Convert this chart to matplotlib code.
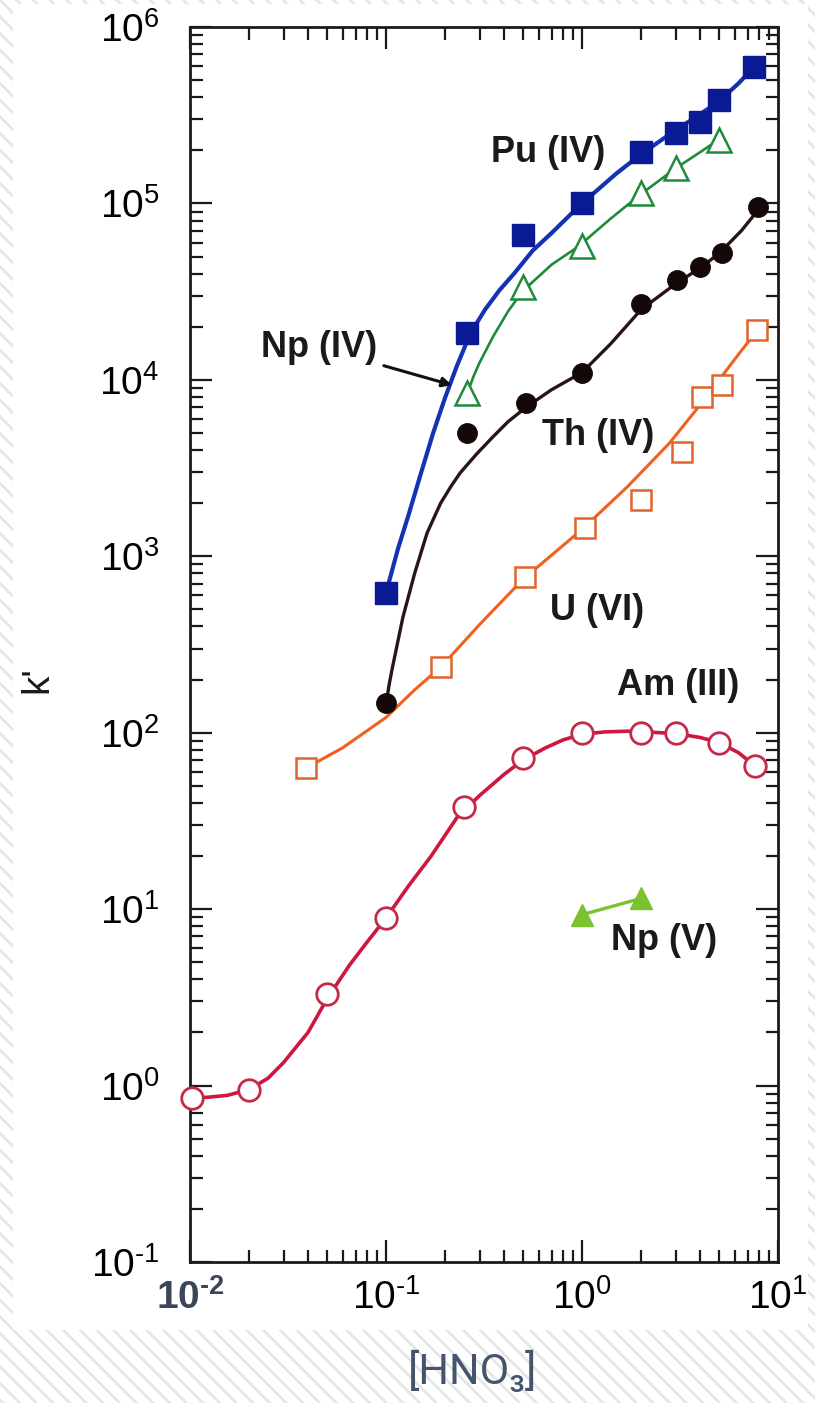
import matplotlib
matplotlib.use("Agg")
import matplotlib.pyplot as plt
from matplotlib.patches import Rectangle

plt.rcParams['font.family'] = ['Liberation Sans', 'DejaVu Sans']
plt.rcParams['mathtext.fontset'] = 'custom'
plt.rcParams['mathtext.rm'] = 'Liberation Sans'
plt.rcParams['mathtext.it'] = 'Liberation Sans'
plt.rcParams['mathtext.bf'] = 'Liberation Sans:bold'
plt.rcParams['hatch.linewidth'] = 2.0

# ---- 측정값 (마커) ----
pu_x = [0.1, 0.26, 0.5, 1.0, 2.0, 3.0, 4.0, 5.0, 7.5]
pu_y = [620, 18500, 66000, 100000, 195000, 250000, 290000, 385000, 590000]

np4_x = [0.26, 0.5, 1.0, 2.0, 3.0, 5.0]
np4_y = [8400, 33600, 57000, 115000, 158000, 230000]

th_x = [0.1, 0.26, 0.52, 1.0, 2.0, 3.05, 4.0, 5.2, 7.9]
th_y = [147, 5000, 7400, 11000, 27000, 36800, 43600, 52400, 95000]

u_x = [0.039, 0.19, 0.51, 1.03, 2.0, 3.24, 4.1, 5.2, 7.8]
u_y = [63, 236, 760, 1445, 2085, 3900, 7980, 9330, 19100]

am_x = [0.0102, 0.02, 0.05, 0.1, 0.25, 0.5, 1.0, 2.0, 3.0, 5.0, 7.6]
am_y = [0.85, 0.94, 3.3, 8.9, 38, 72, 100, 100, 100, 88, 65]

np5_x = [1.0, 2.0]
np5_y = [9.3, 11.5]

# ---- 맞춤 곡선 ----
pu_fit_x = [0.1, 0.115, 0.13, 0.15, 0.174, 0.2, 0.23, 0.27, 0.32, 0.38, 0.45,
            0.56, 0.7, 0.85, 1.0, 1.5, 2.0, 3.0, 4.0, 5.0, 6.3, 7.5]
pu_fit_y = [620, 1100, 1700, 2900, 5000, 7900, 12000, 18400, 25000, 32300, 40000,
            54000, 68000, 84000, 100000, 148000, 190000, 260000, 320000, 380000, 480000, 590000]

np4_fit_x = [0.26, 0.28, 0.3, 0.351, 0.42, 0.5, 0.7, 0.95, 1.4, 2.0, 3.0, 4.0, 5.0]
np4_fit_y = [8400, 10500, 12500, 17500, 24500, 32000, 45000, 56600, 82000, 113000, 158000, 195000, 230000]

th_fit_x = [0.1, 0.104, 0.108, 0.115, 0.122, 0.14, 0.162, 0.19, 0.215, 0.239, 0.29,
            0.351, 0.42, 0.52, 0.7, 1.0, 1.4, 2.0, 3.0, 4.0, 5.0, 6.5, 8.0]
th_fit_y = [145, 190, 236, 330, 452, 800, 1355, 2000, 2500, 2970, 3800,
            4750, 5800, 7010, 8800, 11000, 16000, 25000, 35000, 43000, 52000, 70000, 93000]

u_fit_x = [0.039, 0.06, 0.1, 0.14, 0.19, 0.3, 0.5, 1.0, 1.7, 2.8, 4.0, 6.55, 8.0]
u_fit_y = [63, 82, 122, 175, 235, 410, 740, 1420, 2470, 4390, 7200, 14800, 19500]

am_fit_x = [0.0102, 0.0125, 0.0155, 0.02, 0.025, 0.03, 0.04, 0.05, 0.065, 0.08, 0.1,
            0.13, 0.17, 0.23, 0.3, 0.4, 0.5, 0.65, 0.8, 1.0, 1.3, 1.7, 2.0, 2.5,
            3.0, 4.0, 5.0, 6.3, 7.6]
am_fit_y = [0.85, 0.86, 0.88, 0.95, 1.1, 1.35, 2.0, 3.1, 4.8, 6.5, 8.9,
            13.5, 20, 33, 44, 58, 70, 82, 91, 98, 101, 102, 101.5, 100,
            99, 94, 88, 77, 65]

x_ticks = [0.01, 0.1, 1, 10]
x_tick_labels = ['$\\mathbf{10^{\u20102}}$', '$10^{\u20101}$', r'$10^{0}$', r'$10^{1}$']
y_ticks = [0.1, 1, 10, 100, 1e3, 1e4, 1e5, 1e6]
y_tick_labels = ['$10^{\u20101}$', r'$10^{0}$', r'$10^{1}$', r'$10^{2}$',
                 r'$10^{3}$', r'$10^{4}$', r'$10^{5}$', r'$10^{6}$']

W, H = 815, 1403
fig = plt.figure(figsize=(W / 100, H / 100), dpi=100)

# 배경 (빗금 + 흰 상자)
bg = fig.add_axes([0, 0, 1, 1])
bg.set_axis_off()
bg.set_xlim(0, W)
bg.set_ylim(H, 0)
bg.add_patch(Rectangle((0, 0), W, H, facecolor='white', edgecolor='#e6e6e6',
                       hatch='\\\\', lw=0))
bg.add_patch(Rectangle((13, 4), 795, 1326, facecolor='white', lw=0))

ax = fig.add_axes([190 / W, 1 - 1262 / H, 588 / W, 1235 / H])
ax.set_xscale('log')
ax.set_yscale('log')
ax.set_xlim(0.01, 10)
ax.set_ylim(0.1, 1e6)

# 곡선
ax.plot(u_fit_x, u_fit_y, color='#f0601e', lw=2.2, zorder=2)
ax.plot(am_fit_x, am_fit_y, color='#d0163c', lw=2.6, zorder=2)
ax.plot(th_fit_x, th_fit_y, color='#2a1414', lw=2.4, zorder=2)
ax.plot(np4_fit_x, np4_fit_y, color='#1f8a3a', lw=1.9, zorder=2)
ax.plot(pu_fit_x, pu_fit_y, color='#1432b4', lw=3.0, zorder=3)
ax.plot(np5_x, np5_y, color='#7ac231', lw=2.4, zorder=2)

# 마커
ax.plot(u_x, u_y, ls='none', marker='s', ms=15, mfc='white', mec='#e0642c',
        mew=1.8, zorder=4, clip_on=False)
ax.plot(am_x, am_y, ls='none', marker='o', ms=15.5, mfc='white', mec='#c42a48',
        mew=2.0, zorder=4, clip_on=False)
ax.plot(th_x, th_y, ls='none', marker='o', ms=14, color='#150808', zorder=4)
ax.plot(np4_x, np4_y, ls='none', marker='^', ms=17, mfc='white', mec='#1f8a3a',
        mew=1.8, zorder=4)
ax.plot(pu_x, pu_y, ls='none', marker='s', ms=16, color='#0a1a94', zorder=5)
ax.plot(np5_x, np5_y, ls='none', marker='^', ms=16, color='#7ac231', zorder=4)

# 라벨
lab = dict(fontsize=26, fontweight='bold', color='#1a1a1a', ha='center', va='center')
ax.text(0.67, 1.95e5, 'Pu (IV)', **lab)
ax.text(1.21, 4860, 'Th (IV)', **lab)
ax.text(1.2, 495, 'U (VI)', **lab)
ax.text(3.1, 185, 'Am (III)', **lab)
ax.text(2.62, 6.67, 'Np (V)', **lab)
ax.annotate('Np (IV)', xy=(0.217, 9340), xytext=(0.09, 15300),
            fontsize=26, fontweight='bold', color='#1a1a1a', ha='right', va='center',
            arrowprops=dict(arrowstyle='-|>', color='#111111', lw=2.2,
                            mutation_scale=14, shrinkA=3, shrinkB=0))

# 축
for s in ax.spines.values():
    s.set_linewidth(2.0)
    s.set_color('#1a1a1a')
ax.tick_params(which='both', direction='in', top=True, right=True,
               width=1.6, color='#1a1a1a')
ax.tick_params(which='major', length=16)
ax.tick_params(which='minor', length=9)
ax.set_xticks(x_ticks)
xl = ax.set_xticklabels(x_tick_labels, fontsize=28)
xl[0].set_color('#3a4657')
ax.set_yticks(y_ticks)
ax.set_yticklabels(y_tick_labels, fontsize=28)
ax.tick_params(axis='x', which='major', pad=12)
ax.tick_params(axis='y', which='major', pad=22)

fig.text(37 / W, 1 - 680 / H, "k'", rotation=90, fontsize=28,
         ha='center', va='center', color='#1a1a1a')
fig.text(473 / W, 1 - 1372 / H, '[HNO\u2083]', fontsize=31, color='#44546a',
         ha='center', va='center', family=['Roboto', 'DejaVu Sans'])

fig.savefig('out.png', dpi=100)
